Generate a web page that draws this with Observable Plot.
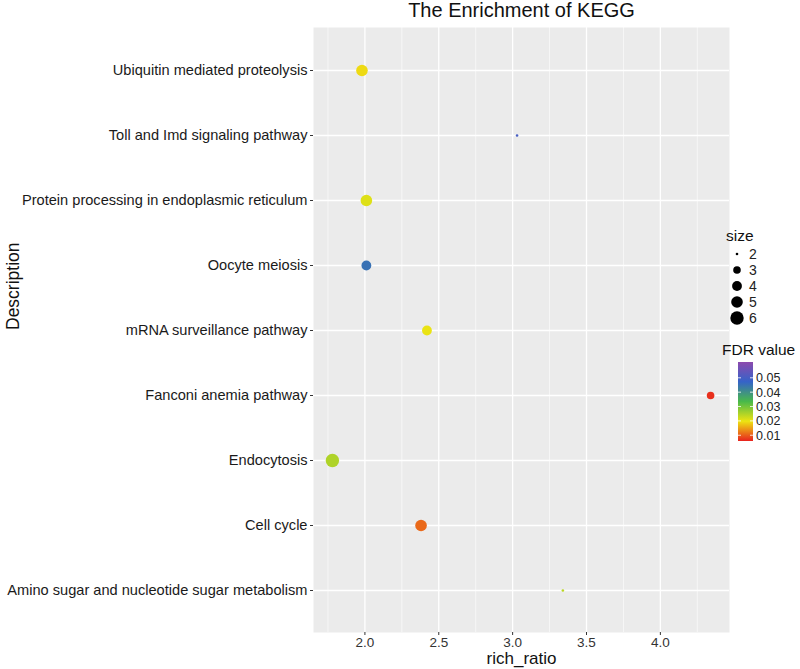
<!DOCTYPE html>
<html>
<head>
<meta charset="utf-8">
<script src="https://cdn.jsdelivr.net/npm/d3@7"></script>
<script src="https://cdn.jsdelivr.net/npm/@observablehq/plot@0.6"></script>
<style>
  html, body { margin: 0; padding: 0; background: white; }
  #chart svg { display: block; }
</style>
</head>
<body>
<div id="chart"></div>
<script>
// ---- data ----
const categories = [
  "Ubiquitin mediated proteolysis",
  "Toll and Imd signaling pathway",
  "Protein processing in endoplasmic reticulum",
  "Oocyte meiosis",
  "mRNA surveillance pathway",
  "Fanconi anemia pathway",
  "Endocytosis",
  "Cell cycle",
  "Amino sugar and nucleotide sugar metabolism"
];
const richRatio = [1.98, 3.03, 2.01, 2.01, 2.42, 4.34, 1.78, 2.38, 3.34];
const geneCount = [5, 2, 5, 4, 4, 3, 6, 5, 2];
const fdrValue  = [0.019, 0.050, 0.021, 0.045, 0.020, 0.007, 0.025, 0.011, 0.024];
const xTicks = [2.0, 2.5, 3.0, 3.5, 4.0];
const xMinorTicks = [1.75, 2.25, 2.75, 3.25, 3.75, 4.25];
const sizeTicks = [2, 3, 4, 5, 6];
const fdrTicks = [0.01, 0.02, 0.03, 0.04, 0.05];
const titleText = "The Enrichment of KEGG";
const xLabel = "rich_ratio";
const yLabel = "Description";
const sizeTitle = "size";
const colorTitle = "FDR value";

const data = categories.map((c, i) => ({desc: c, ratio: richRatio[i], size: geneCount[i], fdr: fdrValue[i]}));

// ---- scales ----
const W = 800, H = 669;
const mL = 313, mR = 71, mT = 27, mB = 37;
const font = "'Liberation Sans', Arial, Helvetica, sans-serif";
const colorOpts = {
  type: "linear",
  domain: [0.006, 0.0197, 0.0335, 0.0472, 0.061],
  range: ["#e8221e", "#eee412", "#49b94a", "#3563c8", "#8d4aae"],
  interpolate: "rgb"
};
const rOpts = {type: "linear", domain: sizeTicks, range: [1.3, 3.8, 4.9, 5.8, 6.7]};

const plot = Plot.plot({
  width: W, height: H,
  marginLeft: mL, marginRight: mR, marginTop: mT, marginBottom: mB,
  style: {fontFamily: font, background: "white", color: "#333"},
  x: {domain: [1.652, 4.468]},
  y: {type: "point", domain: categories, padding: 0.6},
  r: rOpts,
  color: colorOpts,
  marks: [
    Plot.frame({fill: "#ebebeb", stroke: null}),
    Plot.ruleX(xMinorTicks, {stroke: "white", strokeWidth: 0.6}),
    Plot.ruleX(xTicks, {stroke: "white", strokeWidth: 1.3}),
    Plot.ruleY(categories, {y: d => d, stroke: "white", strokeWidth: 1.3}),
    Plot.dot(data, {x: "ratio", y: "desc", r: "size", fill: "fdr", stroke: null}),
    Plot.axisX({ticks: xTicks, tickFormat: d3.format(".1f"), tickSize: 3, tickPadding: 2, fontSize: 13.5, label: null, stroke: "#333", fill: "#333"}),
    Plot.axisY({tickSize: 3, tickPadding: 3, fontSize: 14.6, label: null, stroke: "#333", fill: "#1a1a1a"}),
    Plot.text([xLabel], {frameAnchor: "bottom", lineAnchor: "middle", dy: 26.5, fontSize: 17, fill: "#111", text: d => d}),
    Plot.text([yLabel], {frameAnchor: "left", rotate: -90, dx: -300, fontSize: 17.5, fill: "#111", text: d => d}),
    Plot.text([titleText], {frameAnchor: "top", lineAnchor: "top", dy: -25, fontSize: 20, fill: "#111", text: d => d})
  ]
});
document.getElementById("chart").appendChild(plot);

// ---- legends (drawn from the same scale definitions) ----
const colorScale = Plot.scale({color: colorOpts});
const rScale = Plot.scale({r: rOpts});
const svg = d3.select(plot);
const g = svg.append("g").attr("font-family", font).attr("text-anchor", "start");

// size legend
g.append("text").attr("x", 726).attr("y", 241).attr("font-size", 15.5).attr("fill", "#111").text(sizeTitle);
const sizeY0 = 254, sizeStep = 16;
sizeTicks.forEach((s, i) => {
  const cy = sizeY0 + i * sizeStep;
  g.append("circle").attr("cx", 737).attr("cy", cy).attr("r", rScale.apply(s)).attr("fill", "black");
  g.append("text").attr("x", 749).attr("y", cy).attr("dy", "0.36em").attr("font-size", 14).attr("fill", "#222").text(s);
});

// color legend
g.append("text").attr("x", 722).attr("y", 355).attr("font-size", 15.5).attr("fill", "#111").text(colorTitle);
const barX = 738, barW = 15, barTop = 362, barBot = 441;
const [dmin, dmax] = [colorOpts.domain[0], colorOpts.domain[colorOpts.domain.length - 1]];
const barScale = d3.scaleLinear().domain([dmin, dmax]).range([barBot, barTop]);
const grad = svg.append("defs").append("linearGradient").attr("id", "fdrgrad")
  .attr("x1", 0).attr("y1", 1).attr("x2", 0).attr("y2", 0);
d3.range(0, 1.0001, 0.05).forEach(t => {
  grad.append("stop").attr("offset", t).attr("stop-color", colorScale.apply(dmin + t * (dmax - dmin)));
});
g.append("rect").attr("x", barX).attr("y", barTop).attr("width", barW).attr("height", barBot - barTop).attr("fill", "url(#fdrgrad)");
fdrTicks.forEach(v => {
  const y = barScale(v);
  g.append("line").attr("x1", barX).attr("x2", barX + 3).attr("y1", y).attr("y2", y).attr("stroke", "white").attr("stroke-width", 0.8);
  g.append("line").attr("x1", barX + barW - 3).attr("x2", barX + barW).attr("y1", y).attr("y2", y).attr("stroke", "white").attr("stroke-width", 0.8);
  g.append("text").attr("x", barX + barW + 3).attr("y", y).attr("dy", "0.36em").attr("font-size", 12.5).attr("fill", "#222").text(d3.format(".2f")(v));
});
</script>
</body>
</html>
